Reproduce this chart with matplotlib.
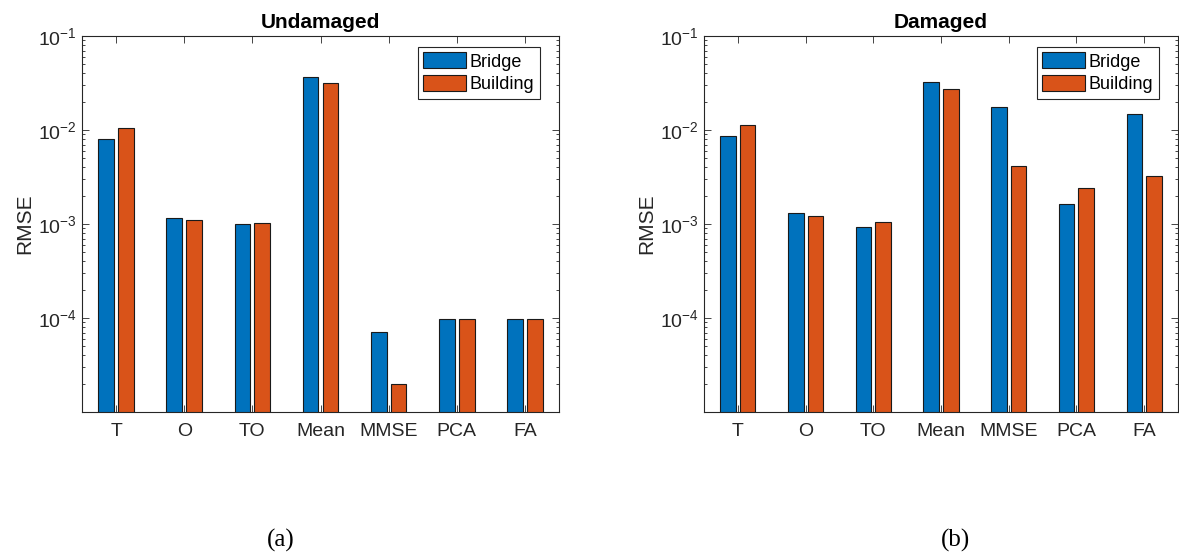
import numpy as np
import matplotlib
matplotlib.use('Agg')
from matplotlib import pyplot as plt
from matplotlib.ticker import LogLocator, NullFormatter

plt.rcParams['font.family'] = 'Liberation Sans'
plt.rcParams['mathtext.fontset'] = 'custom'
plt.rcParams['mathtext.rm'] = 'Liberation Sans'
plt.rcParams['mathtext.it'] = 'Liberation Sans:italic'

methods = ['T', 'O', 'TO', 'Mean', 'MMSE', 'PCA', 'FA']

# RMSE, undamaged case
undamaged_bridge = [8.0e-3, 1.17e-3, 0.99e-3, 3.69e-2, 7.05e-5, 9.85e-5, 9.7e-5]
undamaged_building = [1.05e-2, 1.11e-3, 1.03e-3, 3.14e-2, 1.97e-5, 9.85e-5, 9.7e-5]

# RMSE, damaged case
damaged_bridge = [8.7e-3, 1.31e-3, 0.935e-3, 3.27e-2, 1.76e-2, 1.63e-3, 1.48e-2]
damaged_building = [1.13e-2, 1.23e-3, 1.05e-3, 2.71e-2, 4.14e-3, 2.40e-3, 3.24e-3]

blue = '#0072BD'
orange = '#D95319'
axcol = '#262626'

W, H = 1179, 552
fig = plt.figure(figsize=(W / 100, H / 100), dpi=100)


def panel(rect, bridge, building, title):
    ax = fig.add_axes(rect)
    x = np.arange(1, len(methods) + 1)
    ax.bar(x - 0.145, bridge, 0.23, color=blue, edgecolor='#1a1a1a', linewidth=0.8, label='Bridge')
    ax.bar(x + 0.145, building, 0.23, color=orange, edgecolor='#1a1a1a', linewidth=0.8, label='Building')
    ax.set_yscale('log')
    ax.set_ylim(1.0e-5, 1e-1)
    ax.set_xlim(0.5, 7.5)
    ax.set_yticks([1e-4, 1e-3, 1e-2, 1e-1])
    ax.yaxis.set_minor_locator(LogLocator(base=10, subs=np.arange(2, 10)))
    ax.yaxis.set_minor_formatter(NullFormatter())
    ax.set_xticks(x)
    ax.set_xticklabels(methods)
    ax.tick_params(axis='both', which='both', direction='in', top=True, right=True,
                   colors=axcol, labelsize=14, width=0.6)
    ax.tick_params(which='major', length=5)
    ax.tick_params(which='minor', length=2.5)
    ax.tick_params(axis='x', pad=8)
    for s in ax.spines.values():
        s.set_color(axcol)
        s.set_linewidth(0.8)
    ax.set_ylabel('RMSE', fontsize=15, color=axcol, labelpad=3)
    ax.set_title(title, fontsize=15, fontweight='bold', pad=6)
    leg = ax.legend(loc='upper right', bbox_to_anchor=(0.960, 0.971), borderaxespad=0,
                    fontsize=13, fancybox=False, framealpha=1, edgecolor=axcol,
                    handlelength=2.4, handleheight=1.0, handletextpad=0.2,
                    borderpad=0.3, labelspacing=0.25)
    leg.get_frame().set_linewidth(0.8)
    return ax


bot = 1 - 412 / H
hgt = (412 - 36) / H
panel([82 / W, bot, 477 / W, hgt], undamaged_bridge, undamaged_building, 'Undamaged')
panel([704 / W, bot, 474 / W, hgt], damaged_bridge, damaged_building, 'Damaged')

fig.text(281 / W, 1 - 540 / H, '(a)', family='Liberation Serif', fontsize=18, ha='center', va='center')
fig.text(955 / W, 1 - 540 / H, '(b)', family='Liberation Serif', fontsize=18, ha='center', va='center')

fig.savefig('out.png', dpi=100)
